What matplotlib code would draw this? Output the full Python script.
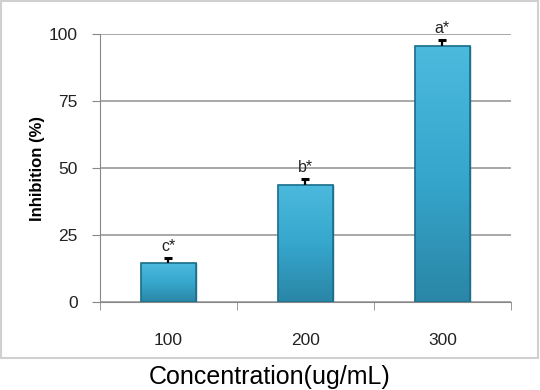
import numpy as np
import matplotlib.pyplot as plt
from matplotlib.colors import LinearSegmentedColormap
from matplotlib.patches import Rectangle

plt.rcParams['font.family'] = ['Liberation Sans', 'DejaVu Sans']

concentrations = ['100', '200', '300']
inhibition = [14.5, 43.8, 95.7]
errors = [2.0, 2.0, 2.0]
letters = ['c*', 'b*', 'a*']

fig = plt.figure(figsize=(5.4, 3.9), dpi=100)
ax = fig.add_axes([0.185, 0.2256, 0.761, 0.6872])

# outer frame around the chart area
fig.patches.append(Rectangle((0.002, 0.082), 0.994, 0.916, transform=fig.transFigure,
                             fill=False, edgecolor='#d0d0d0', linewidth=1.5))

x = np.arange(len(concentrations))
bars = ax.bar(x, inhibition, width=0.4, color='#33a6cb', edgecolor='#1d6f8c',
              linewidth=1.0, zorder=3)

# vertical gradient inside the bars
cmap = LinearSegmentedColormap.from_list('barg', ['#2a86a6', '#36a7cd', '#4cbadd'])
grad = np.linspace(0, 1, 256).reshape(-1, 1)
for b in bars:
    x0, y0 = b.get_x(), b.get_y()
    im = ax.imshow(grad, cmap=cmap, origin='lower', aspect='auto', zorder=3.5,
                   extent=[x0, x0 + b.get_width(), y0, y0 + b.get_height()])
    im.set_clip_path(b)
    ax.add_patch(Rectangle((x0, y0), b.get_width(), b.get_height(), fill=False,
                           edgecolor='#1d6f8c', linewidth=1.2, zorder=4))

# upper error bars only
tops = np.array(inhibition) + np.array(errors)
ax.vlines(x, inhibition, tops, color='black', linewidth=1.6, zorder=5)
ax.hlines(tops, x - 0.03, x + 0.03, color='black', linewidth=2.2, zorder=5)

for i, (t, top) in enumerate(zip(letters, tops)):
    ax.annotate(t, (x[i], top), xytext=(0, 3), textcoords='offset points',
                ha='center', va='bottom', fontsize=11.5, color='#222222')

ax.set_xlim(-0.5, 2.5)
ax.set_ylim(0, 100)
ax.set_yticks([0, 25, 50, 75, 100])
ax.set_xticks(x)
ax.set_xticklabels(concentrations)
ax.set_xticks([-0.5, 0.5, 1.5, 2.5], minor=True)
ax.tick_params(axis='x', which='major', length=0, pad=22, labelsize=12.5, labelcolor='#222222')
ax.tick_params(axis='x', which='minor', length=6, color='#888888')
ax.tick_params(axis='y', length=6, color='#888888', labelsize=12.5, pad=10, labelcolor='#222222')
ax.yaxis.grid(True, color='#999999', linewidth=1.2, zorder=0)
ax.set_axisbelow(True)
for s in ['top', 'right']:
    ax.spines[s].set_visible(False)
ax.spines['left'].set_color('#888888')
ax.spines['bottom'].set_color('#888888')

ax.set_ylabel('Inhibition (%)', fontsize=12, fontweight='bold', labelpad=3)
fig.text(0.5, 0.033, 'Concentration(ug/mL)', ha='center', va='center', fontsize=18)

fig.savefig('out.png', dpi=100)
